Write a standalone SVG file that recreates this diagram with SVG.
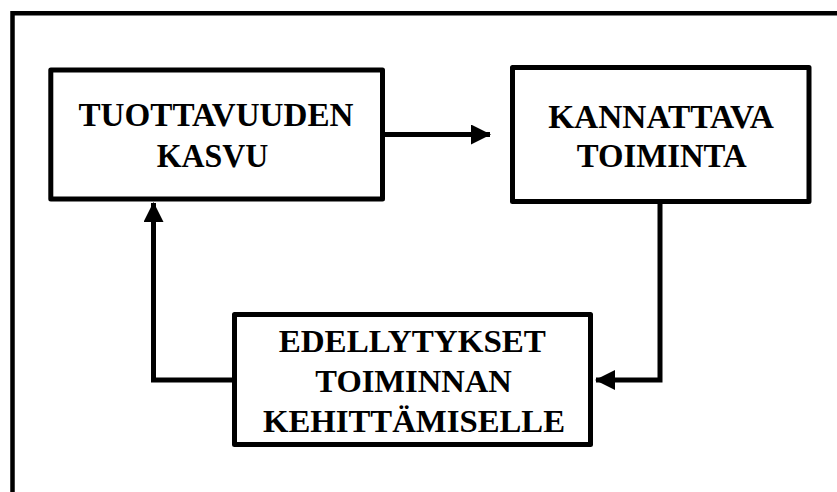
<svg xmlns="http://www.w3.org/2000/svg" width="837" height="492" viewBox="0 0 837 492">
  <style>
    .box { fill: #fff; stroke: #000; stroke-width: 5; stroke-linejoin: round; }
    .wire { fill: none; stroke: #000; stroke-width: 5; stroke-linejoin: miter; }
    .frame { fill: none; stroke: #000; stroke-width: 4.5; }
    .label { font-family: 'Liberation Serif', 'Times New Roman', serif; font-weight: 700; fill: #000; text-anchor: middle; }
  </style>
  <defs>
    <marker id="head" markerUnits="userSpaceOnUse" markerWidth="20" markerHeight="20" refX="19" refY="10" orient="auto">
      <path d="M0,0 L20,10 L0,20 Z" fill="#000"/>
    </marker>
  </defs>

  <rect width="837" height="492" fill="#fff"/>

  <!-- outer frame: only the top and left edges fall inside the canvas -->
  <path class="frame" d="M12.5,492 V13.3 H837"/>

  <g id="connectors">
    <path class="wire" d="M385,134.5 H490" marker-end="url(#head)"/>
    <path class="wire" d="M660,203 V380 H596" marker-end="url(#head)"/>
    <path class="wire" d="M234,380 H153.5 V203" marker-end="url(#head)"/>
  </g>

  <g id="tuottavuuden-kasvu">
    <rect class="box" x="50.8" y="70" width="331.7" height="129"/>
    <text class="label" x="216" y="126" font-size="34" textLength="275" lengthAdjust="spacingAndGlyphs">TUOTTAVUUDEN</text>
    <text class="label" x="212.5" y="166.7" font-size="34" textLength="111.6" lengthAdjust="spacingAndGlyphs">KASVU</text>
  </g>

  <g id="kannattava-toiminta">
    <rect class="box" x="512.5" y="67.5" width="296.5" height="134"/>
    <text class="label" x="661" y="127.7" font-size="34" textLength="225.7" lengthAdjust="spacingAndGlyphs">KANNATTAVA</text>
    <text class="label" x="661.7" y="166.7" font-size="34" textLength="170" lengthAdjust="spacingAndGlyphs">TOIMINTA</text>
  </g>

  <g id="edellytykset">
    <rect class="box" x="234.5" y="314.5" width="356" height="130"/>
    <text class="label" x="412.3" y="351.7" font-size="32" textLength="267.3" lengthAdjust="spacingAndGlyphs">EDELLYTYKSET</text>
    <text class="label" x="413.5" y="392.3" font-size="32" textLength="196.4" lengthAdjust="spacingAndGlyphs">TOIMINNAN</text>
    <text class="label" x="414" y="432.3" font-size="32" textLength="302" lengthAdjust="spacingAndGlyphs">KEHITTÄMISELLE</text>
  </g>
</svg>
